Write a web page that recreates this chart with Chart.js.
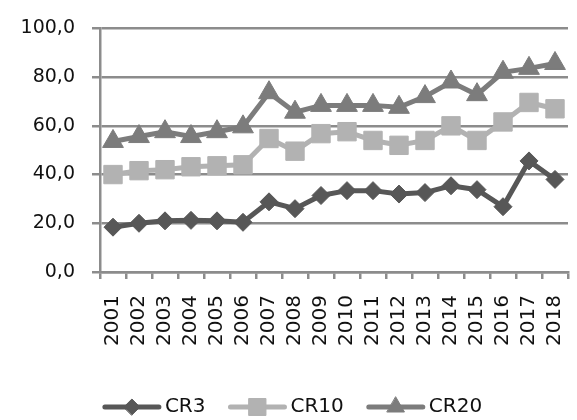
<!DOCTYPE html>
<html>
<head>
<meta charset="utf-8">
<script src="https://cdn.jsdelivr.net/npm/chart.js@4/dist/chart.umd.min.js"></script>
<style>
  html, body { margin: 0; padding: 0; background: #ffffff; }
  #wrap { width: 577px; height: 420px; }
</style>
</head>
<body>
<div id="wrap"><canvas id="c" width="577" height="420"></canvas></div>
<script>
// Concentration ratios by year
const years = ['2001', '2002', '2003', '2004', '2005', '2006', '2007', '2008', '2009',
               '2010', '2011', '2012', '2013', '2014', '2015', '2016', '2017', '2018'];
const cr3  = [18.4, 20.0, 21.0, 21.2, 21.0, 20.4, 28.8, 26.0, 31.4, 33.4, 33.4, 32.0, 32.6, 35.4, 33.8, 26.8, 45.6, 38.0];
const cr10 = [40.0, 41.6, 42.0, 43.2, 43.6, 44.0, 54.8, 49.6, 56.8, 57.6, 54.0, 52.0, 54.0, 60.0, 54.0, 61.6, 69.6, 67.0];
const cr20 = [53.6, 55.6, 57.6, 55.6, 57.6, 59.6, 73.6, 65.6, 68.4, 68.4, 68.4, 67.6, 72.0, 78.0, 72.8, 82.0, 83.6, 85.6];
const seriesNames = ['CR3', 'CR10', 'CR20'];
const yMin = 0, yMax = 100, yStep = 20;

const FONT = 'DejaVu Sans';
const GRID = '#8c8c8c';
const styles = [
  { color: '#575757', point: 'rectRot',  radius: 9,  legendRadius: 8 },
  { color: '#b2b2b2', point: 'rect',     radius: 13, legendRadius: 12 },
  { color: '#7c7c7c', point: 'triangle', radius: 12, legendRadius: 10 }
];

const fmt = v => v.toFixed(1).replace('.', ',');

// Legend: a line segment with the series marker, followed by the name
const legendLine = {
  id: 'legendLine',
  afterDraw(chart) {
    const ctx = chart.ctx;
    const lineLen = 58, gapText = 4, gapItem = 23, cy = 407;
    ctx.save();
    ctx.font = '20px "' + FONT + '"';
    ctx.textBaseline = 'middle';
    const widths = chart.data.datasets.map(d => lineLen + gapText + ctx.measureText(d.label).width);
    const total = widths.reduce((a, b) => a + b, 0) + gapItem * (widths.length - 1);
    let x = chart.width / 2 - total / 2 + 4;
    chart.data.datasets.forEach((d, i) => {
      const st = styles[i];
      ctx.strokeStyle = st.color;
      ctx.lineWidth = 5;
      ctx.lineCap = 'round';
      ctx.beginPath();
      ctx.moveTo(x + 2, cy);
      ctx.lineTo(x + lineLen - 2, cy);
      ctx.stroke();
      ctx.fillStyle = st.color;
      ctx.lineWidth = 1;
      Chart.helpers.drawPoint(ctx, {
        pointStyle: st.point, radius: st.legendRadius, rotation: 0, borderWidth: 1
      }, x + lineLen / 2, cy);
      ctx.fillStyle = '#111111';
      ctx.textAlign = 'left';
      ctx.fillText(d.label, x + lineLen + gapText, cy);
      x += widths[i] + gapItem;
    });
    ctx.restore();
  }
};

const seriesData = [cr3, cr10, cr20];
const datasets = seriesData.map((vals, i) => ({
  label: seriesNames[i],
  data: vals,
  borderColor: styles[i].color,
  backgroundColor: styles[i].color,
  pointBackgroundColor: styles[i].color,
  pointBorderColor: styles[i].color,
  pointStyle: styles[i].point,
  pointRadius: styles[i].radius,
  pointHoverRadius: styles[i].radius,
  pointBorderWidth: 1,
  borderWidth: 5,
  tension: 0,
  fill: false,
  clip: false
}));

new Chart(document.getElementById('c'), {
  type: 'line',
  data: { labels: years, datasets: datasets },
  options: {
    responsive: false,
    animation: false,
    devicePixelRatio: 1,
    layout: { autoPadding: false, padding: { top: 11, right: 9, left: 0, bottom: 70 } },
    plugins: { legend: { display: false }, tooltip: { enabled: false } },
    scales: {
      x: {
        type: 'category',
        offset: true,
        grid: { offset: true, drawOnChartArea: false, drawTicks: true, tickLength: 7, color: GRID, lineWidth: 2.5 },
        border: { display: true, color: GRID, width: 2.5 },
        ticks: {
          minRotation: 90, maxRotation: 90, autoSkip: false, padding: 16,
          color: '#111111', font: { family: FONT, size: 20 }
        },
        afterFit(s) { s.height = 78; s.paddingLeft = 0; s.paddingRight = 0; }
      },
      y: {
        min: yMin, max: yMax,
        grid: { color: GRID, lineWidth: 2.5, tickLength: 8, drawTicks: true },
        border: { display: true, color: GRID, width: 2.5 },
        ticks: {
          stepSize: yStep, padding: 17, color: '#111111',
          font: { family: FONT, size: 19 },
          callback: v => fmt(v)
        },
        afterFit(s) { s.width = 100; }
      }
    }
  },
  plugins: [legendLine]
});
</script>
</body>
</html>
